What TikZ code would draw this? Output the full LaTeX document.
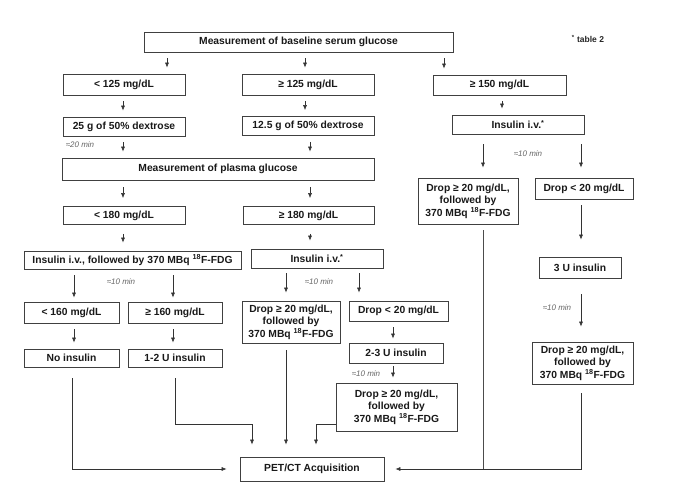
\documentclass[tikz,border=0pt]{standalone}
\usepackage{fontspec}
\setmainfont{Liberation Sans}
\usepackage{tikz}
\usetikzlibrary{arrows.meta}

\newcommand{\fdgdrop}{Drop ≥ 20 mg/dL,\\followed by\\370 MBq \textsuperscript{18}F-FDG}

\begin{document}
\begin{tikzpicture}[x=1pt,y=-1pt,
	box/.style={draw=black!75,line width=0.7pt,align=center,inner sep=1pt,text=black!90,font=\fontsize{10.3}{12.4}\selectfont\bfseries},
	arr/.style={black!80,line width=0.6pt,-{Latex[length=5pt,width=4pt]},shorten <=6pt,shorten >=6pt},
	link/.style={black!70,line width=0.6pt},
	wait/.style={text=black!60,inner sep=0pt,font=\fontsize{8}{9}\selectfont\itshape}]
	\fill[white] (0,0) rectangle (680,497);
	\useasboundingbox (0,0) rectangle (680,497);
	
	\node[box,minimum width=309pt,minimum height=20pt] (base) at (298.5,42) {Measurement of baseline serum glucose};
	\node[text=black!85,inner sep=0pt,font=\fontsize{8.5}{10}\selectfont\bfseries] (tab) at (588,39) {\textsuperscript{*} table 2};
	\node[box,minimum width=122pt,minimum height=21pt] (lt125) at (124,84.5) {< 125 mg/dL};
	\node[box,minimum width=132pt,minimum height=21pt] (ge125) at (308,84.5) {≥ 125 mg/dL};
	\node[box,minimum width=133pt,minimum height=20pt] (ge150) at (499.5,85) {≥ 150 mg/dL};
	\node[box,minimum width=122pt,minimum height=19pt] (dex25) at (124,126.5) {25 g of 50\% dextrose};
	\node[box,minimum width=132pt,minimum height=19pt] (dex125) at (308,126) {12.5 g of 50\% dextrose};
	\node[box,minimum width=132pt,minimum height=19pt] (insR) at (518,124.5) {Insulin i.v.\textsuperscript{*}};
	\node[box,minimum width=312pt,minimum height=22pt] (plasma) at (218,169) {Measurement of plasma glucose};
	\node[box,minimum width=122pt,minimum height=18pt] (lt180) at (124,215.5) {< 180 mg/dL};
	\node[box,minimum width=131pt,minimum height=18pt] (ge180) at (308.5,215.5) {≥ 180 mg/dL};
	\node[box,minimum width=217pt,minimum height=18pt] (insL) at (132.5,260) {Insulin i.v., followed by 370 MBq \textsuperscript{18}F-FDG};
	\node[box,minimum width=132pt,minimum height=19pt] (insM) at (317,258.5) {Insulin i.v.\textsuperscript{*}};
	\node[box,minimum width=95pt,minimum height=21pt] (lt160) at (71.5,312.5) {< 160 mg/dL};
	\node[box,minimum width=94pt,minimum height=21pt] (ge160) at (175,312.5) {≥ 160 mg/dL};
	\node[box,minimum width=95pt,minimum height=18pt] (noins) at (71.5,358) {No insulin};
	\node[box,minimum width=94pt,minimum height=18pt] (u12) at (175,358) {1-2 U insulin};
	\node[box,minimum width=98pt,minimum height=42pt] (dropM1) at (291,322) {\fdgdrop};
	\node[box,minimum width=99pt,minimum height=20pt] (dropM2) at (398.5,311) {Drop < 20 mg/dL};
	\node[box,minimum width=94pt,minimum height=20pt] (u23) at (396,353) {2-3 U insulin};
	\node[box,minimum width=121pt,minimum height=48pt] (dropM3) at (396.5,407) {\fdgdrop};
	\node[box,minimum width=100pt,minimum height=46pt] (dropR1) at (468,201) {\fdgdrop};
	\node[box,minimum width=98pt,minimum height=21pt] (dropR2) at (584,188.5) {Drop < 20 mg/dL};
	\node[box,minimum width=82pt,minimum height=21pt] (u3) at (580,267.5) {3 U insulin};
	\node[box,minimum width=101pt,minimum height=42pt] (dropR3) at (582.5,363) {\fdgdrop};
	\node[box,minimum width=144pt,minimum height=24pt] (pet) at (312,469) {PET/CT Acquisition};
	
	\node[wait] (w20) at (80,145) {≈20 min};
	\node[wait] (w10a) at (121,282) {≈10 min};
	\node[wait] (w10b) at (319,282) {≈10 min};
	\node[wait] (w10c) at (366,374) {≈10 min};
	\node[wait] (w10d) at (528,154) {≈10 min};
	\node[wait] (w10e) at (557,308) {≈10 min};
	
	\draw[arr] (base.south -| 167,0) -- (lt125.north -| 167,0);
	\draw[arr] (base.south -| 305,0) -- (ge125.north -| 305,0);
	\draw[arr] (base.south -| 444,0) -- (ge150.north -| 444,0);
	\draw[arr] (lt125.south -| 123,0) -- (dex25.north -| 123,0);
	\draw[arr] (ge125.south -| 305,0) -- (dex125.north -| 305,0);
	\draw[arr] (ge150.south -| 502,0) -- (insR.north -| 502,0);
	\draw[arr] (dex25.south -| 123,0) -- (plasma.north -| 123,0);
	\draw[arr] (dex125.south -| 310,0) -- (plasma.north -| 310,0);
	\draw[arr,shorten <=7pt,shorten >=8pt] (plasma.south -| 123,0) -- (lt180.north -| 123,0);
	\draw[arr,shorten <=7pt,shorten >=8pt] (plasma.south -| 310,0) -- (ge180.north -| 310,0);
	\draw[arr,shorten <=9pt,shorten >=8pt] (lt180.south -| 123,0) -- (insL.north -| 123,0);
	\draw[arr,shorten <=9pt,shorten >=8pt] (ge180.south -| 310,0) -- (insM.north -| 310,0);
	\draw[arr,shorten >=4pt] (insL.south -| 74,0) -- (lt160.north -| 74,0);
	\draw[arr,shorten >=4pt] (insL.south -| 173,0) -- (ge160.north -| 173,0);
	\draw[arr] (lt160.south -| 74,0) -- (noins.north -| 74,0);
	\draw[arr] (ge160.south -| 173,0) -- (u12.north -| 173,0);
	\draw[arr,shorten <=5pt,shorten >=8pt] (insM.south -| 286,0) -- (dropM1.north -| 286,0);
	\draw[arr,shorten <=5pt,shorten >=8pt] (insM.south -| 359,0) -- (dropM2.north -| 359,0);
	\draw[arr,shorten >=4pt] (dropM2.south -| 393,0) -- (u23.north -| 393,0);
	\draw[arr,shorten <=3pt,shorten >=5pt] (u23.south -| 393,0) -- (dropM3.north -| 393,0);
	\draw[arr,shorten <=10pt,shorten >=10pt] (insR.south -| 483,0) -- (dropR1.north -| 483,0);
	\draw[arr,shorten <=10pt,shorten >=10pt] (insR.south -| 581,0) -- (dropR2.north -| 581,0);
	\draw[arr,shorten >=17pt] (dropR2.south -| 581,0) -- (u3.north -| 581,0);
	\draw[arr,shorten <=16pt,shorten >=15pt] (u3.south -| 581,0) -- (dropR3.north -| 581,0);
	
	\draw[arr,shorten <=11pt,shorten >=13pt] (noins.south -| 72,0) |- (pet.west);
	\draw[arr,shorten <=11pt,shorten >=12pt] (u12.south -| 175,0) -- ++(0,57) -| (pet.north -| 252,0);
	\draw[arr,shorten <=7pt,shorten >=12pt] (dropM1.south -| 286,0) -- (pet.north -| 286,0);
	\draw[arr,shorten <=0pt,shorten >=12pt] (dropM3.west |- 0,424) -| (pet.north -| 316,0);
	\draw[link,shorten <=6pt] (dropR1.south -| 483,0) -- (pet.east -| 483,0);
	\draw[arr,shorten <=9pt,shorten >=11pt] (dropR3.south -| 581,0) |- (pet.east);
\end{tikzpicture}
\end{document}
